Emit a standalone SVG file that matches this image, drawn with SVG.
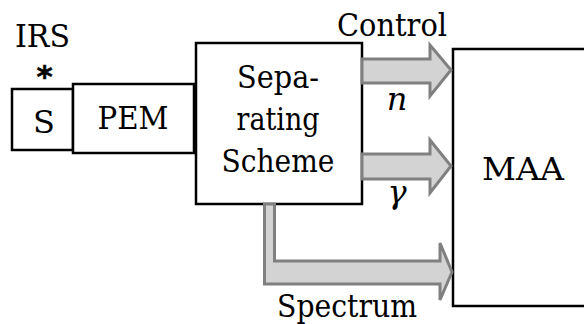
<svg xmlns="http://www.w3.org/2000/svg" width="584" height="324" viewBox="0 0 584 324">
<style>
.box{fill:#fff;stroke:#000;stroke-width:2.5}
.arr{fill:#d3d3d3;stroke:#808080;stroke-width:3;stroke-linejoin:miter}
.t{font-size:32px;fill:#000;text-anchor:middle}
.it{font-style:italic}
.ast{font-family:'DejaVu Sans',sans-serif;font-weight:700;font-size:31px;fill:#000;stroke:#000;stroke-width:0.5;text-anchor:middle}
</style>
<rect width="584" height="324" fill="#fff"/>
<g font-family="DejaVu Serif, serif">
<g id="S"><rect class="box" x="12" y="89" width="61" height="61"/><text class="t" x="44" y="133">S</text></g>
<g id="PEM"><rect class="box" x="73" y="84" width="121" height="69"/><text class="t" x="133" y="129" textLength="71" lengthAdjust="spacingAndGlyphs">PEM</text></g>
<g id="SepScheme"><rect class="box" x="196" y="43" width="166" height="161"/>
<text class="t" x="278" y="88" textLength="82" lengthAdjust="spacingAndGlyphs">Sepa-</text><text class="t" x="278" y="130" textLength="83" lengthAdjust="spacingAndGlyphs">rating</text><text class="t" x="278" y="172" textLength="113" lengthAdjust="spacingAndGlyphs">Scheme</text></g>
<g id="MAA"><rect class="box" x="453" y="49" width="140" height="257"/><text class="t" x="523" y="180" textLength="82" lengthAdjust="spacingAndGlyphs">MAA</text></g>
<g id="connectors">
<polygon class="arr" points="362,59 430,59 430,45 451,70 430,96 430,83 362,83"/>
<polygon class="arr" points="362,154 430,154 430,140 451,166 430,193 430,179 362,179"/>
<polygon class="arr" points="264.5,204 274.5,204 274.5,261 440,261 440,243 452,272 440,300 440,284 264.5,284"/>
</g>
<g id="labels">
<text class="t" x="42.5" y="47" textLength="55" lengthAdjust="spacingAndGlyphs">IRS</text>
<text class="ast" x="44.5" y="87">*</text>
<text class="t" x="392" y="36" textLength="110" lengthAdjust="spacingAndGlyphs">Control</text>
<text class="t it" x="397" y="110">n</text>
<text class="t it" x="397" y="203">γ</text>
<text class="t" x="347" y="317" textLength="140" lengthAdjust="spacingAndGlyphs">Spectrum</text>
</g>
</g>
</svg>
